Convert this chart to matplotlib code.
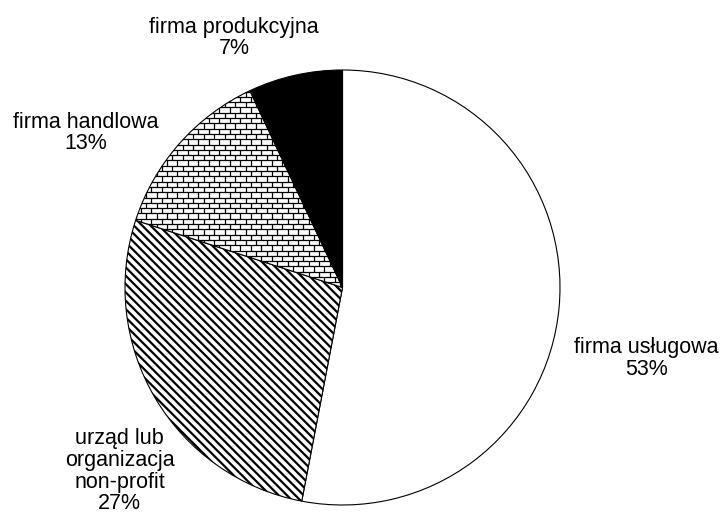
import numpy as np
import matplotlib.pyplot as plt
from matplotlib.collections import LineCollection

# Dane
kategorie = ['firma usługowa', 'urząd lub\norganizacja\nnon-profit', 'firma handlowa', 'firma produkcyjna']
udzialy = [53, 27, 13, 7]
etykiety_proc = ['53%', '27%', '13%', '7%']

# Pozycje etykiet (układ)
poz_etykiet = [(1.396, -0.326), (-1.024, -0.845), (-1.179, 0.710), (-0.498, 1.147)]

plt.rcParams['font.family'] = ['Liberation Sans', 'DejaVu Sans']
plt.rcParams['hatch.linewidth'] = 1.6

W, H = 723, 514
R = 217.5
cx, cy = 342.5, 287.5

fig = plt.figure(figsize=(W / 100, H / 100), dpi=100)
ax = fig.add_axes([0, 0, 1, 1])

kolory = ['white', 'white', 'white', 'black']
wzory = [None, '\\\\\\\\', None, None]
wedges, _ = ax.pie(udzialy, startangle=90, counterclock=False, colors=kolory,
                   hatch=wzory, radius=1.0, center=(0, 0), frame=True,
                   wedgeprops=dict(edgecolor='black', linewidth=0.8))
ax.set_xlim(-cx / R, (W - cx) / R)
ax.set_ylim(-(H - cy) / R, cy / R)
ax.set_aspect('equal')
ax.axis('off')

# Wzór cegiełek dla firmy handlowej
dy = 5.3 / R
dx = 10.5 / R
segs = []
rows = np.arange(-1.0, 1.0, dy)
for i, y in enumerate(rows):
    segs.append([(-1.0, y), (1.0, y)])
    off = 0 if i % 2 == 0 else dx / 2
    for x in np.arange(-1.0 + off, 1.0, dx):
        segs.append([(x, y), (x, y + dy)])
lc = LineCollection(segs, colors='black', linewidths=0.9, zorder=1.5)
ax.add_collection(lc)
lc.set_clip_path(wedges[2])

for kat, proc, (x, y) in zip(kategorie, etykiety_proc, poz_etykiet):
    ax.text(x, y, kat + '\n' + proc, ha='center', va='center', fontsize=15.5,
            linespacing=1.05)

fig.savefig('out.png', dpi=100)
